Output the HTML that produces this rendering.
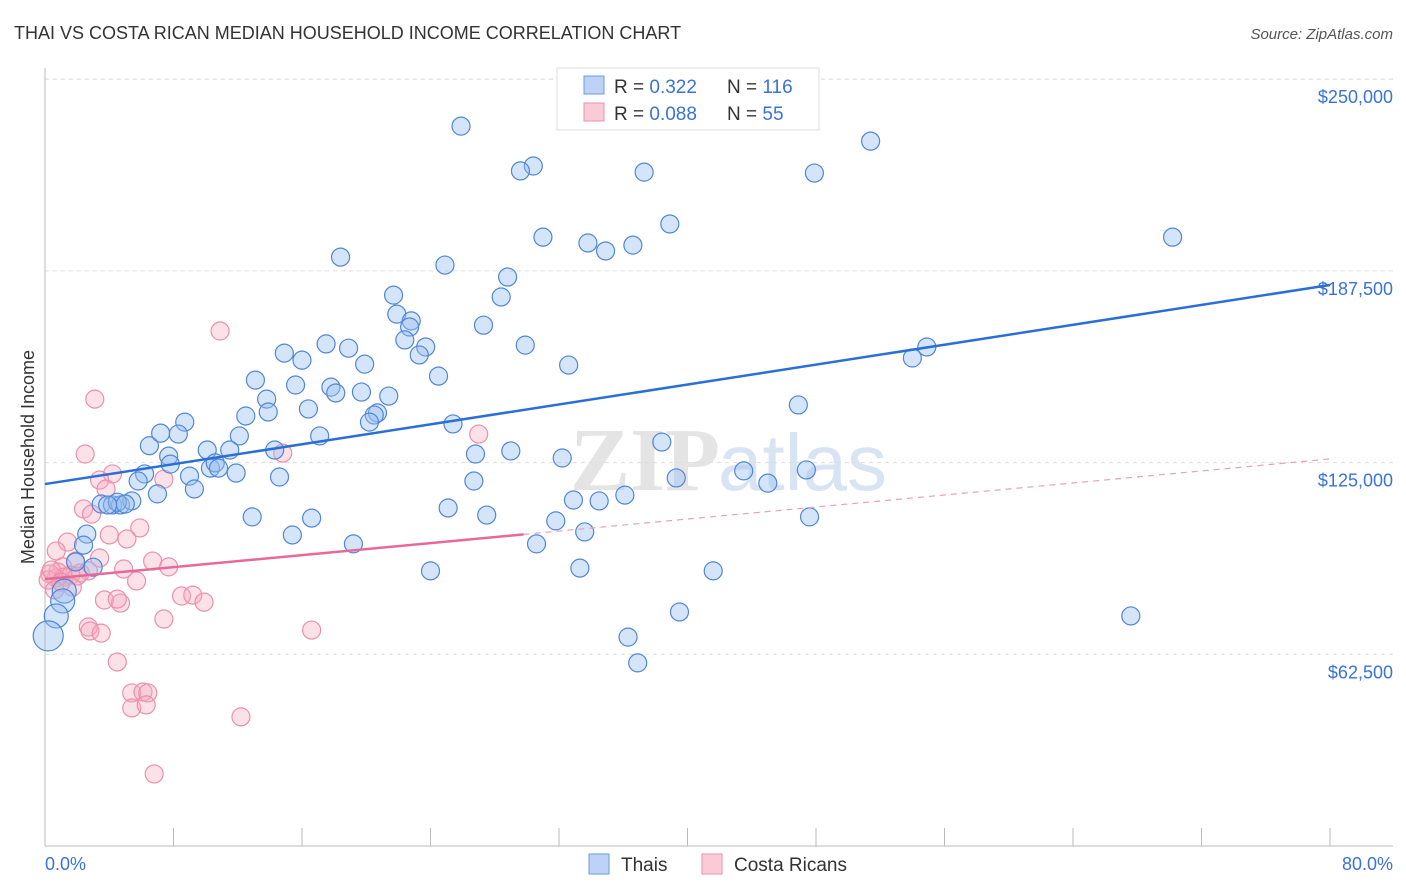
<!DOCTYPE html>
<html><head><meta charset="utf-8"><style>
body{margin:0;background:#fff;font-family:"Liberation Sans",sans-serif;}
svg{display:block}
</style></head><body>
<svg id="chart" width="1406" height="892" viewBox="0 0 1406 892">
<text x="14" y="39" font-size="18" fill="#333">THAI VS COSTA RICAN MEDIAN HOUSEHOLD INCOME CORRELATION CHART</text>
<text x="1393" y="39" font-size="15" fill="#555" font-style="italic" text-anchor="end">Source: ZipAtlas.com</text>
<text x="720" y="490" font-size="90" fill="#e4e4e4" text-anchor="end" font-family="Liberation Serif" font-weight="bold">ZIP</text>
<text x="718" y="490" font-size="80" fill="#d8e4f4">atlas</text>
<g id="grid"></g><g id="axes"></g><g id="marks"></g><g id="lines"></g>
<text x="34" y="457" font-size="18" fill="#333" text-anchor="middle" transform="rotate(-90 34 457)">Median Household Income</text>
<text x="45" y="870" font-size="18" fill="#3a72d8">0.0%</text>
<text x="1393" y="870" font-size="18" fill="#3a72d8" text-anchor="end">80.0%</text>
<g>
<rect x="557" y="68" width="262" height="62" fill="#fff" stroke="#ddd"/>
<rect x="584" y="76" width="20" height="18" fill="#bcd3f5" stroke="#6a9be0"/>
<rect x="584" y="103" width="20" height="18" fill="#fbcad7" stroke="#e890aa"/>
<text x="614" y="93" font-size="19" fill="#333">R = <tspan fill="#3a72d8">0.322</tspan><tspan x="727">N = </tspan><tspan fill="#3a72d8">116</tspan></text>
<text x="614" y="120" font-size="19" fill="#333">R = <tspan fill="#3a72d8">0.088</tspan><tspan x="727">N = </tspan><tspan fill="#3a72d8"> 55</tspan></text>
</g>
<g>
<rect x="589" y="854" width="20" height="20" fill="#bcd3f5" stroke="#6a9be0"/>
<text x="621" y="871" font-size="19" fill="#333">Thais</text>
<rect x="702" y="854" width="20" height="20" fill="#fbcad7" stroke="#e890aa"/>
<text x="734" y="871" font-size="19" fill="#333">Costa Ricans</text>
</g>
</svg>
<script>
const yTicks=[62500,125000,187500,250000];
const yTickLabels=["$62,500","$125,000","$187,500","$250,000"];
const xTicks=[0,8,16,24,32,40,48,56,64,72,80];
const thaiX=[25.9,30.4,29.6,37.3,47.9,51.4,70.2,38.9,31.0,33.8,34.9,36.6,18.4,24.9,28.8,28.4,21.7,21.9,22.8,22.7,27.3,22.4,23.7,23.3,29.9,17.5,18.9,14.9,16.0,19.9,32.6,24.5,13.1,15.6,17.8,18.1,19.7,21.4,13.8,13.9,16.4,12.5,20.7,20.5,20.2,8.7,25.4,46.9,54.9,54.0,6.5,7.2,8.3,12.1,10.1,11.5,17.1,14.3,7.7,6.2,7.8,9.0,10.3,10.6,10.8,11.9,14.6,9.3,5.8,7.0,26.8,29.0,32.2,38.4,26.7,39.3,43.5,45.0,47.4,32.9,34.5,36.1,25.1,27.5,31.8,33.6,30.6,12.9,16.6,15.4,19.2,3.5,4.2,4.7,5.4,4.5,3.9,5.0,2.6,2.4,3.0,1.9,24.0,33.3,41.6,36.3,36.9,39.5,47.6,67.6,1.2,1.1,0.7,0.2];
const thaiY=[234.7,221.7,220.1,219.7,219.4,229.8,198.5,202.8,198.5,196.6,194.0,195.9,192.0,189.4,185.5,179.0,179.6,173.4,171.2,169.2,169.8,165.0,162.7,160.1,163.3,163.7,162.3,160.7,158.4,157.1,156.8,153.2,151.9,150.3,149.6,147.7,148.0,146.7,145.7,141.5,142.5,140.2,141.2,140.5,138.2,138.2,137.6,143.8,162.7,159.1,130.5,134.6,134.3,133.7,129.1,129.1,133.7,129.1,127.1,121.3,124.5,120.6,123.2,124.9,123.2,121.6,120.3,116.4,119.0,114.8,127.8,128.8,126.5,131.7,119.0,120.0,122.3,118.3,122.6,112.8,112.5,114.4,110.2,107.9,106.0,102.4,98.5,107.3,106.9,101.4,98.5,111.5,111.2,111.2,112.5,112.1,111.2,111.5,101.7,98.1,90.9,92.6,89.7,90.6,89.7,68.1,59.7,76.3,107.3,75.0,83.1,79.9,75.0,68.5];
const ricanX=[10.9,3.1,2.5,14.8,27.0,4.2,3.4,3.8,7.4,2.4,2.9,5.9,4.0,5.1,1.4,0.7,6.7,7.7,4.9,3.4,1.9,1.1,0.8,0.7,0.3,0.2,1.2,1.6,2.2,2.7,1.7,0.6,5.7,3.7,4.7,4.5,8.5,9.2,9.9,7.4,2.7,2.8,3.5,16.6,4.5,5.4,6.1,6.4,5.4,6.3,12.2,6.8,0.4,1.0,2.0];
const ricanY=[167.9,145.7,127.8,128.1,134.3,121.3,119.3,116.4,119.6,109.9,108.2,103.7,101.4,100.1,99.1,96.2,92.9,91.0,90.3,93.9,92.9,91.0,89.3,87.4,88.7,86.7,87.7,88.3,89.0,89.7,84.4,83.5,86.4,80.2,79.2,80.5,81.5,81.8,79.5,74.0,71.4,70.1,69.4,70.4,60.0,49.9,50.2,49.9,45.0,46.0,42.1,23.5,90.0,86.0,88.0];
const thaiTrend=[118.0,182.9];
const ricanTrend=[87.0,126.2];
const ricanSolidEnd=29.8;
const NS="http://www.w3.org/2000/svg";
const xs=v=>45+v/80*1285;
const ys=v=>846-v*1000/62500*191.7;
function mk(tag,attrs,parent){const e=document.createElementNS(NS,tag);for(const k in attrs)e.setAttribute(k,attrs[k]);parent.appendChild(e);return e;}
const grid=document.getElementById('grid'),axes=document.getElementById('axes'),marks=document.getElementById('marks'),lines=document.getElementById('lines');
yTicks.forEach((t,i)=>{
 const l=mk('line',{x1:45,x2:1393,y1:ys(t/1000),y2:ys(t/1000),stroke:'#ddd','stroke-dasharray':'4,4'},grid);
 
 
 const tx=mk('text',{x:1393,y:ys(t/1000)+24,'font-size':18,fill:'#3a72d8','text-anchor':'end'},axes);
 tx.textContent=yTickLabels[i];
 
 
});
const tl=mk('line',{x1:45,x2:1393,y1:79,y2:79,stroke:'#ddd','stroke-dasharray':'4,4'},grid);


const ya=mk('line',{x1:45,x2:45,y1:68,y2:846,stroke:'#bbb'},axes);


const xa=mk('line',{x1:45,x2:1393,y1:846,y2:846,stroke:'#bbb'},axes);


xTicks.forEach(t=>{const l=mk('line',{x1:xs(t),x2:xs(t),y1:828,y2:846,stroke:'#bbb'},axes);
 
 });
function dot(x,y,fill,stroke,name,r){const c=mk('circle',{cx:xs(x),cy:ys(y),r:r,fill:fill,stroke:stroke,'stroke-width':1.2},marks);
 
 }
ricanX.forEach((x,i)=>dot(x,ricanY[i],'rgba(247,170,192,0.35)','#eb8fab','costa-rican-point',9));
thaiX.forEach((x,i)=>dot(x,thaiY[i],'rgba(150,190,240,0.4)','#4f86d8','thai-point',x<1.3?(x<0.5?15:12):9));
const bl=mk('line',{x1:xs(0),y1:ys(thaiTrend[0]),x2:xs(80),y2:ys(thaiTrend[1]),stroke:'#2a6fd6','stroke-width':2.5},lines);


const pe=ricanTrend[0]+(ricanTrend[1]-ricanTrend[0])*ricanSolidEnd/80;
const pl=mk('line',{x1:xs(0),y1:ys(ricanTrend[0]),x2:xs(ricanSolidEnd),y2:ys(pe),stroke:'#e8689a','stroke-width':2.5},lines);


const pd=mk('line',{x1:xs(ricanSolidEnd),y1:ys(pe),x2:xs(80),y2:ys(ricanTrend[1]),stroke:'#e8a0b8','stroke-width':1.2,'stroke-dasharray':'6,5'},lines);


</script>
</body></html>
